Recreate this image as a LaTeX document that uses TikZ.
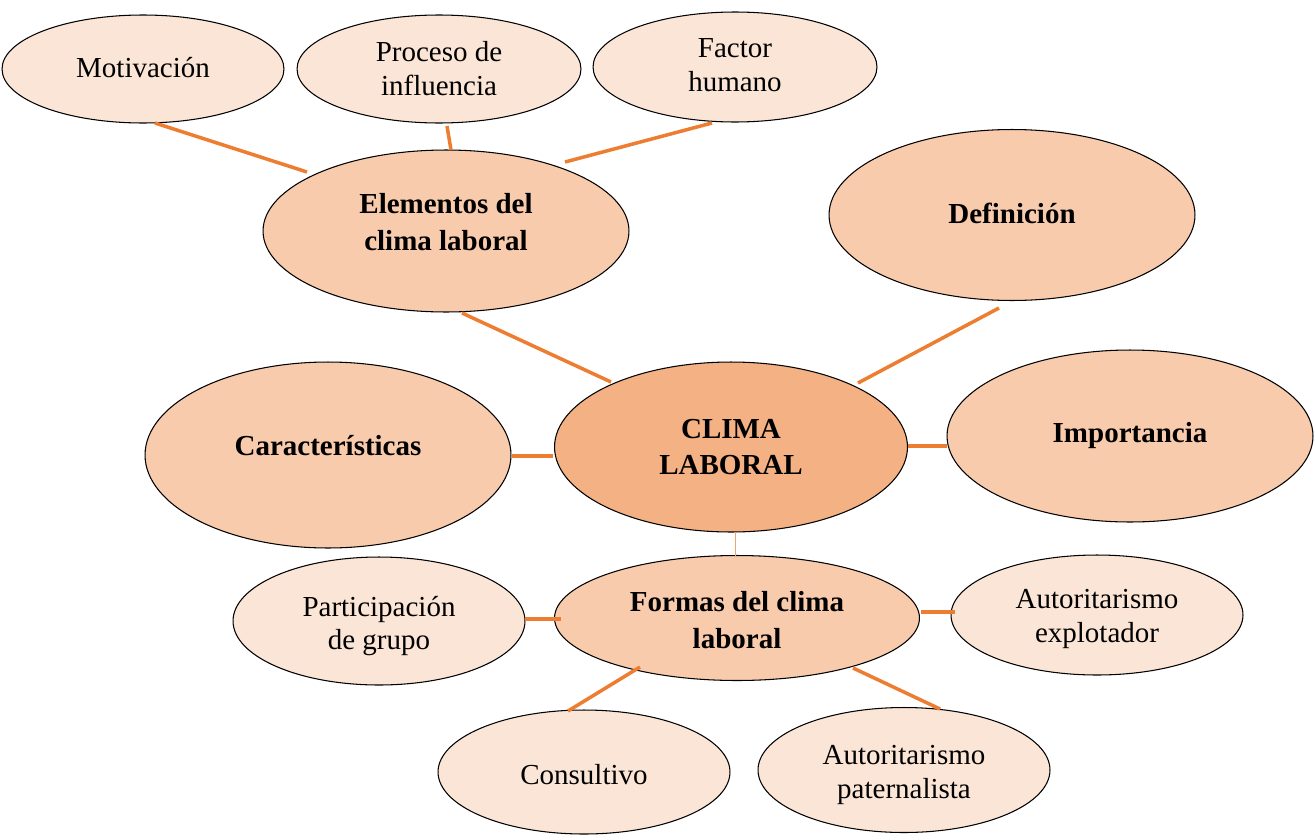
\documentclass[tikz,border=0pt]{standalone}
\usepackage{fontspec}
\setmainfont{Liberation Serif}
\usetikzlibrary{shapes.geometric}
\definecolor{lightfill}{HTML}{FBE5D6}
\definecolor{midfill}{HTML}{F8CBAD}
\definecolor{centerfill}{HTML}{F4B183}
\definecolor{linkcol}{HTML}{ED7D31}
\tikzset{
  bub/.style={ellipse, draw=black, line width=0.6pt, inner sep=0pt},
  small/.style={bub, fill=lightfill},
  mid/.style={bub, fill=midfill},
  core/.style={bub, fill=centerfill},
  txt/.style={inner sep=0pt, align=center, font=\fontsize{16.5}{19.3}\selectfont},
  btxt/.style={inner sep=0pt, align=center, font=\fontsize{16.5}{20.8}\selectfont\bfseries},
  link/.style={draw=linkcol, line width=2pt},
  thinlink/.style={draw=linkcol!70, line width=0.5pt}
}
\begin{document}
\begin{tikzpicture}[x=0.02cm,y=-0.02cm]
\useasboundingbox (0,0) rectangle (1314,835);
% shapes
\node[small, minimum width=5.64cm, minimum height=2.16cm] (mot) at (143,69) {};
\node[small, minimum width=5.68cm, minimum height=2.16cm] (pro) at (439,69) {};
\node[small, minimum width=5.68cm, minimum height=2.2cm] (fac) at (735,67) {};
\node[mid, minimum width=7.32cm, minimum height=3.24cm] (ele) at (446,231) {};
\node[mid, minimum width=7.32cm, minimum height=3.42cm] (def) at (1012,215) {};
\node[mid, minimum width=7.32cm, minimum height=3.72cm] (car) at (328,455) {};
\node[core, minimum width=7.06cm, minimum height=3.40cm] (cli) at (731,447) {};
\node[mid, minimum width=7.32cm, minimum height=3.44cm] (imp) at (1130,436) {};
\node[mid, minimum width=7.30cm, minimum height=2.50cm] (for) at (737,618) {};
\node[small, minimum width=5.84cm, minimum height=2.56cm] (par) at (379,621) {};
\node[small, minimum width=5.84cm, minimum height=2.40cm] (exp) at (1097,615) {};
\node[small, minimum width=5.84cm, minimum height=2.48cm] (con) at (584,772) {};
\node[small, minimum width=5.84cm, minimum height=2.50cm] (pat) at (904,770) {};
% texts
\node[txt] (motT) at ([yshift=0.02cm]mot.center) {Motivación};
\node[txt] (proT) at (pro.center) {Proceso de\\influencia};
\node[txt] (facT) at ([yshift=0.04cm]fac.center) {Factor\\humano};
\node[btxt] (eleT) at ([yshift=0.18cm]ele.center) {Elementos del\\clima laboral};
\node[btxt] (defT) at ([yshift=0.04cm]def.center) {Definición};
\node[btxt] (carT) at ([yshift=0.18cm]car.center) {Características};
\node[btxt] (cliT) at (cli.center) {CLIMA\\LABORAL};
\node[btxt] (impT) at (imp.center) {Importancia};
\node[btxt] (forT) at ([yshift=-0.04cm]for.center) {Formas del clima\\laboral};
\node[txt] (parT) at ([yshift=-0.10cm]par.center) {Participación\\de grupo};
\node[txt] (expT) at ([yshift=-0.08cm]exp.center) {Autoritarismo\\explotador};
\node[txt] (conT) at ([yshift=-0.06cm]con.center) {Consultivo};
\node[txt] (patT) at ([yshift=-0.10cm]pat.center) {Autoritarismo\\paternalista};
% connector ends
\coordinate (motE) at (155,123);  \coordinate (eleA) at (307,172);
\coordinate (proE) at (447,126);  \coordinate (eleB) at (451,150);
\coordinate (facE) at (712,123);  \coordinate (eleC) at (565,162);
\coordinate (eleD) at (462,313);  \coordinate (cliA) at (611,382);
\coordinate (defE) at (999,308);  \coordinate (cliB) at (858,383);
\coordinate (carE) at (512,456);  \coordinate (cliC) at (553,456);
\coordinate (impE) at (947,446);  \coordinate (cliD) at (908,446);
\coordinate (cliF) at (735,532);  \coordinate (forA) at (735,556);
\coordinate (parE) at (525,619);  \coordinate (forB) at (561,619);
\coordinate (expE) at (955,612);  \coordinate (forC) at (921,612);
\coordinate (conE) at (568,711);  \coordinate (forD) at (640,667);
\coordinate (patE) at (940,709);  \coordinate (forE) at (853,668);
% connectors
\draw[link] (motE) -- (eleA);
\draw[link] (proE) -- (eleB);
\draw[link] (facE) -- (eleC);
\draw[link] (eleD) -- (cliA);
\draw[link] (defE) -- (cliB);
\draw[link] (carE) -- (cliC);
\draw[link] (impE) -- (cliD);
\draw[thinlink] (cliF) -- (forA);
\draw[link] (parE) -- (forB);
\draw[link] (expE) -- (forC);
\draw[link] (conE) -- (forD);
\draw[link] (patE) -- (forE);
\end{tikzpicture}
\end{document}
